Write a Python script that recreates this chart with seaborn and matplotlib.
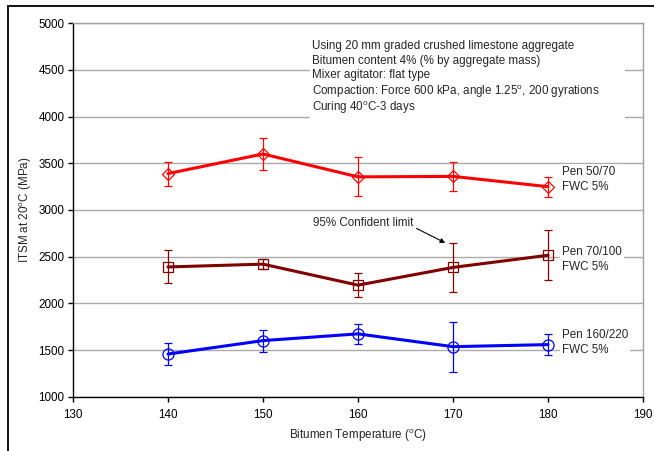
import seaborn as sns
import pandas as pd
import matplotlib
matplotlib.use('Agg')
import matplotlib.pyplot as plt
from matplotlib.patches import Rectangle

# bitumen temperature (deg C)
temps = [140, 150, 160, 170, 180]

# ITSM at 20C (MPa) and 95% confidence half widths
itsm_50_70 = [3390, 3600, 3355, 3360, 3250]
ci_50_70 = [128, 172, 210, 156, 108]
itsm_70_100 = [2390, 2420, 2195, 2385, 2515]
ci_70_100 = [177, 50, 130, 262, 268]
itsm_160_220 = [1457, 1601, 1673, 1536, 1558]
ci_160_220 = [120, 118, 106, 268, 113]

series_names = ['Pen 50/70\nFWC 5%', 'Pen 70/100\nFWC 5%', 'Pen 160/220\nFWC 5%']

sns.set_style('white')
plt.rcParams['font.family'] = ['Liberation Sans', 'DejaVu Sans']
plt.rcParams['mathtext.default'] = 'regular'
plt.rcParams['font.size'] = 8.4
fs = 8.4

fig = plt.figure(figsize=(6.54, 4.51), dpi=100)
ax = fig.add_axes([73/654, 1 - 396.7/451, 570/654, 373.4/451])

series = [
    (itsm_50_70, ci_50_70, '#FF0000', 'D', 6.5),
    (itsm_70_100, ci_70_100, '#800000', 's', 7.5),
    (itsm_160_220, ci_160_220, '#0000FF', 'o', 8),
]
for vals, ci, col, mk, ms in series:
    df = pd.DataFrame({'T': temps, 'ITSM': vals})
    ax.errorbar(df['T'], df['ITSM'], yerr=ci, fmt='none', ecolor=col,
                elinewidth=0.9, capsize=3, capthick=0.9, zorder=3)
    sns.lineplot(data=df, x='T', y='ITSM', ax=ax, color=col, lw=2.2,
                 marker=mk, markersize=ms, markerfacecolor='none',
                 markeredgecolor=col, markeredgewidth=0.9, legend=False, zorder=4)

ax.set_xlim(130, 190)
ax.set_ylim(1000, 5000)
ax.set_xticks(range(130, 191, 10))
ax.set_yticks(range(1000, 5001, 500))
ax.yaxis.grid(True, color='#ABABAB', lw=1)
ax.xaxis.grid(False)
ax.set_axisbelow(True)
for s in ['left', 'bottom']:
    ax.spines[s].set_color('black')
    ax.spines[s].set_linewidth(1)
for s in ['top', 'right']:
    ax.spines[s].set_color('#A0A0A0')
    ax.spines[s].set_linewidth(1)
ax.tick_params(axis='both', direction='out', length=3.6, width=1, colors='black',
               labelsize=fs, bottom=True, left=True)
ax.tick_params(axis='y', pad=2.5)
ax.tick_params(axis='x', pad=5)
ax.set_xlabel('')
ax.set_ylabel('')

fig.text(26/654, 1 - 210/451, 'ITSM at 20$^{o}$C (MPa)', rotation=90,
         ha='center', va='center', fontsize=fs)
fig.text(358/654, 1 - 436/451, 'Bitumen Temperature ($^{o}$C)',
         ha='center', va='center', fontsize=fs)

# info box
ax.add_patch(Rectangle((0.416, 0.741), 0.552, 0.214, transform=ax.transAxes,
                       facecolor='white', edgecolor='none', zorder=2))
info = ['Using 20 mm graded crushed limestone aggregate',
        'Bitumen content 4% (% by aggregate mass)',
        'Mixer agitator: flat type',
        'Compaction: Force 600 kPa, angle 1.25$^{o}$, 200 gyrations',
        'Curing 40$^{o}$C-3 days']
info_y = [0.938, 0.898, 0.861, 0.818, 0.773]
for t, yy in zip(info, info_y):
    ax.text(0.419, yy, t, transform=ax.transAxes, ha='left', va='center',
            fontsize=fs, zorder=5)

# series labels
label_y = [0.582, 0.367, 0.145]
for name, yy in zip(series_names, label_y):
    ax.text(0.858, yy, name, transform=ax.transAxes, ha='left', va='center',
            fontsize=fs, linespacing=1.35, zorder=5,
            bbox=dict(facecolor='white', edgecolor='none', pad=1.5))

ax.annotate('95% Confident limit', xy=(0.653, 0.412), xytext=(0.421, 0.465),
            xycoords='axes fraction', textcoords='axes fraction',
            ha='left', va='center', fontsize=fs, zorder=5,
            arrowprops=dict(arrowstyle='-|>', color='black', lw=0.8,
                            shrinkA=0, shrinkB=0, mutation_scale=7,
                            relpos=(1.02, 0.1)))

# outer chart frame
fig.add_artist(Rectangle((8/654, -0.1), 1.2, 1.1 - 6/451 + 0.001,
                         transform=fig.transFigure, fill=False,
                         edgecolor='black', lw=1.3))

fig.savefig('out.png', dpi=100)
